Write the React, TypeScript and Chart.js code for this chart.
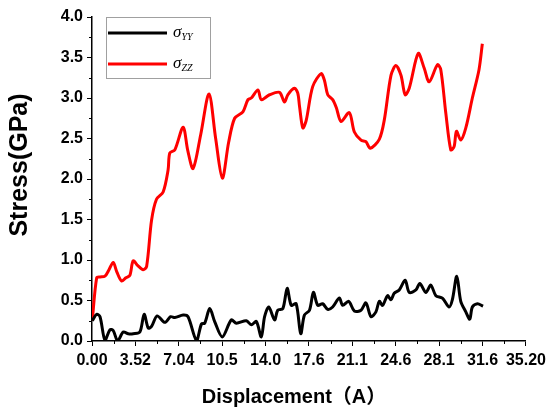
import React, { useEffect, useRef } from "react";
import { Chart, registerables } from "chart.js";

Chart.register(...registerables);

// ---- data ----
const syyX = [0.02, 0.38, 0.65, 1.05, 1.46, 1.72, 2.08, 2.53, 2.94, 3.34, 3.88, 4.23, 4.56, 4.83, 5.28, 5.91, 6.37, 6.72, 7.39, 7.79, 8.47, 8.88, 9.14, 9.55, 9.95, 10.57, 11.3, 11.71, 12.52, 12.92, 13.33, 13.73, 14.0, 14.34, 14.81, 15.07, 15.48, 15.83, 16.16, 16.56, 16.93, 17.23, 17.64, 17.96, 18.31, 18.71, 19.12, 19.52, 20.06, 20.33, 20.82, 21.28, 21.82, 22.22, 22.63, 23.03, 23.3, 23.57, 23.97, 24.25, 24.51, 24.92, 25.4, 25.73, 26.27, 26.59, 27.08, 27.48, 27.89, 28.42, 28.96, 29.23, 29.59, 29.91, 30.32, 30.64, 30.85, 31.26, 31.72];
const syyY = [0.25, 0.33, 0.3, 0.01, 0.14, 0.13, 0.0, 0.11, 0.09, 0.09, 0.11, 0.33, 0.16, 0.18, 0.31, 0.23, 0.3, 0.29, 0.32, 0.3, 0.01, 0.21, 0.22, 0.4, 0.24, 0.05, 0.26, 0.22, 0.25, 0.2, 0.24, 0.05, 0.3, 0.42, 0.26, 0.38, 0.4, 0.65, 0.44, 0.46, 0.09, 0.32, 0.38, 0.6, 0.44, 0.46, 0.39, 0.42, 0.53, 0.44, 0.49, 0.37, 0.38, 0.47, 0.3, 0.36, 0.49, 0.44, 0.56, 0.51, 0.59, 0.63, 0.75, 0.6, 0.63, 0.71, 0.6, 0.69, 0.56, 0.53, 0.42, 0.51, 0.8, 0.49, 0.36, 0.27, 0.42, 0.46, 0.43];

const szzX = [0.02, 0.38, 0.65, 1.05, 1.38, 1.72, 2.02, 2.4, 2.75, 3.07, 3.34, 3.72, 4.15, 4.43, 4.83, 5.23, 5.77, 6.17, 6.31, 6.72, 7.39, 7.77, 8.2, 8.82, 9.49, 10.03, 10.57, 11.08, 11.57, 12.24, 12.65, 12.92, 13.46, 13.73, 14.4, 15.21, 15.61, 15.88, 16.42, 16.69, 16.83, 17.1, 17.37, 17.9, 18.58, 18.85, 19.12, 19.52, 19.82, 20.2, 20.87, 21.28, 21.82, 22.22, 22.57, 23.3, 23.71, 24.25, 24.65, 25.06, 25.4, 25.73, 26.46, 26.94, 27.35, 28.02, 28.29, 28.7, 29.1, 29.37, 29.56, 29.91, 30.32, 30.85, 31.39, 31.66];
const szzY = [0.25, 0.78, 0.79, 0.8, 0.88, 0.97, 0.85, 0.74, 0.78, 0.81, 0.99, 0.93, 0.88, 0.92, 1.49, 1.75, 1.84, 2.11, 2.32, 2.36, 2.64, 2.35, 2.13, 2.55, 3.05, 2.5, 2.01, 2.45, 2.75, 2.83, 2.98, 3.0, 3.1, 2.98, 3.04, 3.07, 2.95, 3.04, 3.12, 3.06, 2.9, 2.63, 2.72, 3.14, 3.3, 3.22, 3.04, 2.98, 2.88, 2.71, 2.82, 2.58, 2.48, 2.46, 2.38, 2.49, 2.73, 3.28, 3.4, 3.28, 3.04, 3.12, 3.55, 3.37, 3.2, 3.41, 3.35, 2.81, 2.36, 2.4, 2.59, 2.48, 2.63, 3.0, 3.35, 3.67];

const xTickValues = [0, 3.52, 7.04, 10.56, 14.08, 17.6, 21.12, 24.64, 28.16, 31.68, 35.2];
const xTickLabels = ["0.00", "3.52", "7.04", "10.5", "14.0", "17.6", "21.1", "24.6", "28.1", "31.6", "35.20"];
const yTickValues = [0, 0.5, 1.0, 1.5, 2.0, 2.5, 3.0, 3.5, 4.0];
const yTickLabels = ["0.0", "0.5", "1.0", "1.5", "2.0", "2.5", "3.0", "3.5", "4.0"];

const seriesNames = ["YY", "ZZ"];
const seriesColors = ["#000000", "#ff0000"];
const xTitle = "Displacement（A）";
const yTitle = "Stress(GPa)";

const toPoints = (xs: number[], ys: number[]) => xs.map((x, i) => ({ x, y: ys[i] }));

const SANS = "'Liberation Sans', Arial, 'Noto Sans CJK SC', sans-serif";
const SERIF = "'Liberation Serif', 'DejaVu Serif', serif";

const decorPlugin = {
  id: "decor",
  afterDraw(chart: any) {
    const ctx = chart.ctx as CanvasRenderingContext2D;
    const xs = chart.scales.x;
    const ys = chart.scales.y;
    const area = chart.chartArea;
    ctx.save();
    // minor ticks
    ctx.strokeStyle = "#000";
    ctx.lineWidth = 1;
    for (let i = 0; i < xTickValues.length - 1; i++) {
      const v = (xTickValues[i] + xTickValues[i + 1]) / 2;
      const px = Math.round(xs.getPixelForValue(v)) + 0.5;
      ctx.beginPath();
      ctx.moveTo(px, area.bottom);
      ctx.lineTo(px, area.bottom + 3);
      ctx.stroke();
    }
    for (let i = 0; i < yTickValues.length - 1; i++) {
      const v = (yTickValues[i] + yTickValues[i + 1]) / 2;
      const py = Math.round(ys.getPixelForValue(v)) + 0.5;
      ctx.beginPath();
      ctx.moveTo(area.left, py);
      ctx.lineTo(area.left - 3, py);
      ctx.stroke();
    }
    // axis titles
    ctx.fillStyle = "#000";
    ctx.font = `bold 20px ${SANS}`;
    ctx.textAlign = "center";
    ctx.textBaseline = "middle";
    ctx.fillText(xTitle, 294, 397);
    ctx.save();
    ctx.translate(20, 165);
    ctx.rotate(-Math.PI / 2);
    ctx.font = `bold 25px ${SANS}`;
    ctx.fillText(yTitle, 0, 0);
    ctx.restore();
    // legend
    const bx = 106.5, by = 17.5, bw = 104, bh = 61;
    ctx.strokeStyle = "#a0a0a0";
    ctx.lineWidth = 1;
    ctx.strokeRect(bx, by, bw, bh);
    const rows = [33, 64];
    rows.forEach((ry, i) => {
      ctx.strokeStyle = seriesColors[i];
      ctx.lineWidth = 3;
      ctx.beginPath();
      ctx.moveTo(108, ry);
      ctx.lineTo(167, ry);
      ctx.stroke();
      ctx.fillStyle = "#000";
      ctx.textAlign = "left";
      ctx.textBaseline = "alphabetic";
      ctx.font = `italic 17px ${SERIF}`;
      ctx.fillText("σ", 173, ry + 4);
      const w = ctx.measureText("σ").width;
      ctx.font = `italic 10px ${SERIF}`;
      ctx.fillText(seriesNames[i], 173 + w, ry + 7);
    });
    ctx.restore();
  },
};

export default function App() {
  const ref = useRef<HTMLCanvasElement | null>(null);
  useEffect(() => {
    document.body.style.margin = "0";
    const canvas = ref.current!;
    const chart = new Chart(canvas, {
      type: "line",
      data: {
        datasets: [
          {
            label: "σYY",
            data: toPoints(syyX, syyY),
            borderColor: seriesColors[0],
            backgroundColor: seriesColors[0],
            borderWidth: 3,
            pointRadius: 0,
            tension: 0.3,
          },
          {
            label: "σZZ",
            data: toPoints(szzX, szzY),
            borderColor: seriesColors[1],
            backgroundColor: seriesColors[1],
            borderWidth: 3,
            pointRadius: 0,
            tension: 0.3,
          },
        ],
      },
      options: {
        responsive: false,
        animation: false,
        devicePixelRatio: 1,
        layout: { padding: { left: 0, right: 24, top: 17, bottom: 0 } },
        plugins: { legend: { display: false }, tooltip: { enabled: false } },
        scales: {
          x: {
            type: "linear",
            min: 0,
            max: 35.2,
            afterBuildTicks: (s: any) => {
              s.ticks = xTickValues.map((v) => ({ value: v }));
            },
            afterFit: (s: any) => {
              s.height = 71;
            },
            ticks: {
              autoSkip: false,
              maxRotation: 0,
              color: "#000",
              padding: 5,
              font: { family: SANS, size: 16, weight: "bold" },
              callback: (_v: any, i: number) => xTickLabels[i],
            },
            grid: { drawOnChartArea: false, drawTicks: true, tickLength: 5, tickColor: "#000", tickWidth: 1 },
            border: { color: "#000", width: 1.5 },
          },
          y: {
            type: "linear",
            min: 0,
            max: 4,
            afterBuildTicks: (s: any) => {
              s.ticks = yTickValues.map((v) => ({ value: v }));
            },
            afterFit: (s: any) => {
              s.width = 92;
            },
            ticks: {
              color: "#000",
              padding: 4,
              font: { family: SANS, size: 16, weight: "bold" },
              callback: (_v: any, i: number) => yTickLabels[i],
            },
            grid: { drawOnChartArea: false, drawTicks: true, tickLength: 5, tickColor: "#000", tickWidth: 1 },
            border: { color: "#000", width: 1.5 },
          },
        },
      },
      plugins: [decorPlugin],
    } as any);
    return () => chart.destroy();
  }, []);
  return (
    <div style={{ position: "absolute", left: 0, top: 0, width: 551, height: 412, background: "#fff" }}>
      <canvas ref={ref} width={551} height={412} style={{ display: "block" }} />
    </div>
  );
}
